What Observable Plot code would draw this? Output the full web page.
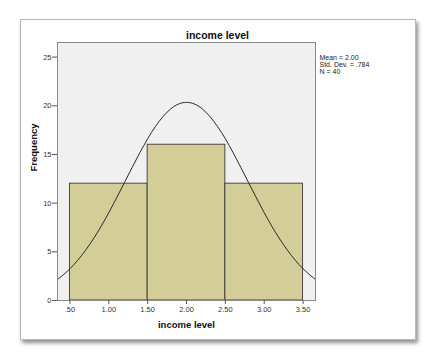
<!DOCTYPE html>
<html>
<head>
<meta charset="utf-8">
<script src="https://cdn.jsdelivr.net/npm/d3@7"></script>
<script src="https://cdn.jsdelivr.net/npm/@observablehq/plot@0.6"></script>
<style>
  html, body { margin: 0; padding: 0; background: #ffffff; }
  #wrap { position: relative; width: 434px; height: 359px; overflow: hidden; }
  #card { position: absolute; left: 20px; top: 19px; width: 394px; height: 319px;
          background: #fff; border: 1px solid #b8b8b8;
          box-shadow: 2px 3px 4px rgba(0,0,0,0.45); }
  #chart { position: absolute; left: 0; top: 0; }
</style>
</head>
<body>
<div id="wrap"><div id="card"></div><div id="chart"></div></div>
<script>
// Histogram bins and frequencies
const binStart = [0.5, 1.5, 2.5];
const binEnd   = [1.5, 2.5, 3.5];
const freq     = [12, 16, 12];

// Normal curve, values
const curveX = [0.34, 0.4, 0.5, 0.6, 0.7, 0.8, 0.9, 1.0, 1.1, 1.2, 1.3, 1.4, 1.5, 1.6, 1.7, 1.8, 1.9, 2.0,
                2.1, 2.2, 2.3, 2.4, 2.5, 2.6, 2.7, 2.8, 2.9, 3.0, 3.1, 3.2, 3.3, 3.4, 3.5, 3.6, 3.66];
const curveY = [2.16, 2.54, 3.26, 4.13, 5.15, 6.31, 7.60, 9.02, 10.53, 12.09, 13.66, 15.18, 16.61, 17.87, 18.91, 19.70, 20.19, 20.35,
                20.19, 19.70, 18.91, 17.87, 16.61, 15.18, 13.66, 12.09, 10.53, 9.02, 7.60, 6.31, 5.15, 4.13, 3.26, 2.54, 2.16];

// Tick labels
const xTicks = [0.5, 1.0, 1.5, 2.0, 2.5, 3.0, 3.5];
const xTickLabels = [".50", "1.00", "1.50", "2.00", "2.50", "3.00", "3.50"];
const yTicks = [0, 5, 10, 15, 20, 25];

const titleText = "income level";
const xLabel = "income level";
const yLabel = "Frequency";
const statsText = ["Mean = 2.00", "Std. Dev. = .784", "N = 40"];

const bars = binStart.map((s, i) => ({x1: s, x2: binEnd[i], y: freq[i]}));
const curve = curveX.map((x, i) => ({x, y: curveY[i]}));

const chart = Plot.plot({
  width: 434,
  height: 359,
  marginLeft: 57,
  marginRight: 119,
  marginTop: 42,
  marginBottom: 59,
  style: {background: "transparent", fontFamily: "'Liberation Sans', Arial, sans-serif", overflow: "visible"},
  x: {domain: [0.34, 3.66]},
  y: {domain: [0, 26.5]},
  marks: [
    Plot.frame({fill: "#f0f0f0", stroke: null}),
    Plot.rectY(bars, {x1: "x1", x2: "x2", y: "y", fill: "#d3ce97", stroke: "#3a3a3a", strokeWidth: 0.9}),
    Plot.line(curve, {x: "x", y: "y", stroke: "#2a2a2a", strokeWidth: 1, curve: "natural"}),
    Plot.frame({stroke: "#8a8a8a", strokeWidth: 1}),
    Plot.axisX({ticks: xTicks, tickFormat: (d) => xTickLabels[xTicks.indexOf(d)], tickSize: 4, tickPadding: 2,
                fontSize: 7.5, fill: "#333", stroke: "#555", label: null}),
    Plot.axisY({ticks: yTicks, tickSize: 5, tickPadding: 1, fontSize: 7.5, fill: "#333", stroke: "#555", label: null}),
    Plot.text([titleText], {frameAnchor: "top", dx: 31, dy: -7, lineAnchor: "middle",
               fontSize: 10.5, fontWeight: "bold", fill: "#111"}),
    Plot.text([xLabel], {frameAnchor: "bottom", dy: 24, lineAnchor: "middle",
               fontSize: 9.5, fontWeight: "bold", fill: "#111"}),
    Plot.text([yLabel], {frameAnchor: "left", dx: -24, rotate: -90, lineAnchor: "middle",
               fontSize: 9.5, fontWeight: "bold", fill: "#111"}),
    Plot.text([statsText.join("\n")], {frameAnchor: "top-right", dx: 4, dy: 13, textAnchor: "start", lineAnchor: "top",
               fontSize: 7, lineHeight: 1.0, fill: "#222"})
  ]
});
document.getElementById("chart").appendChild(chart);
</script>
</body>
</html>
